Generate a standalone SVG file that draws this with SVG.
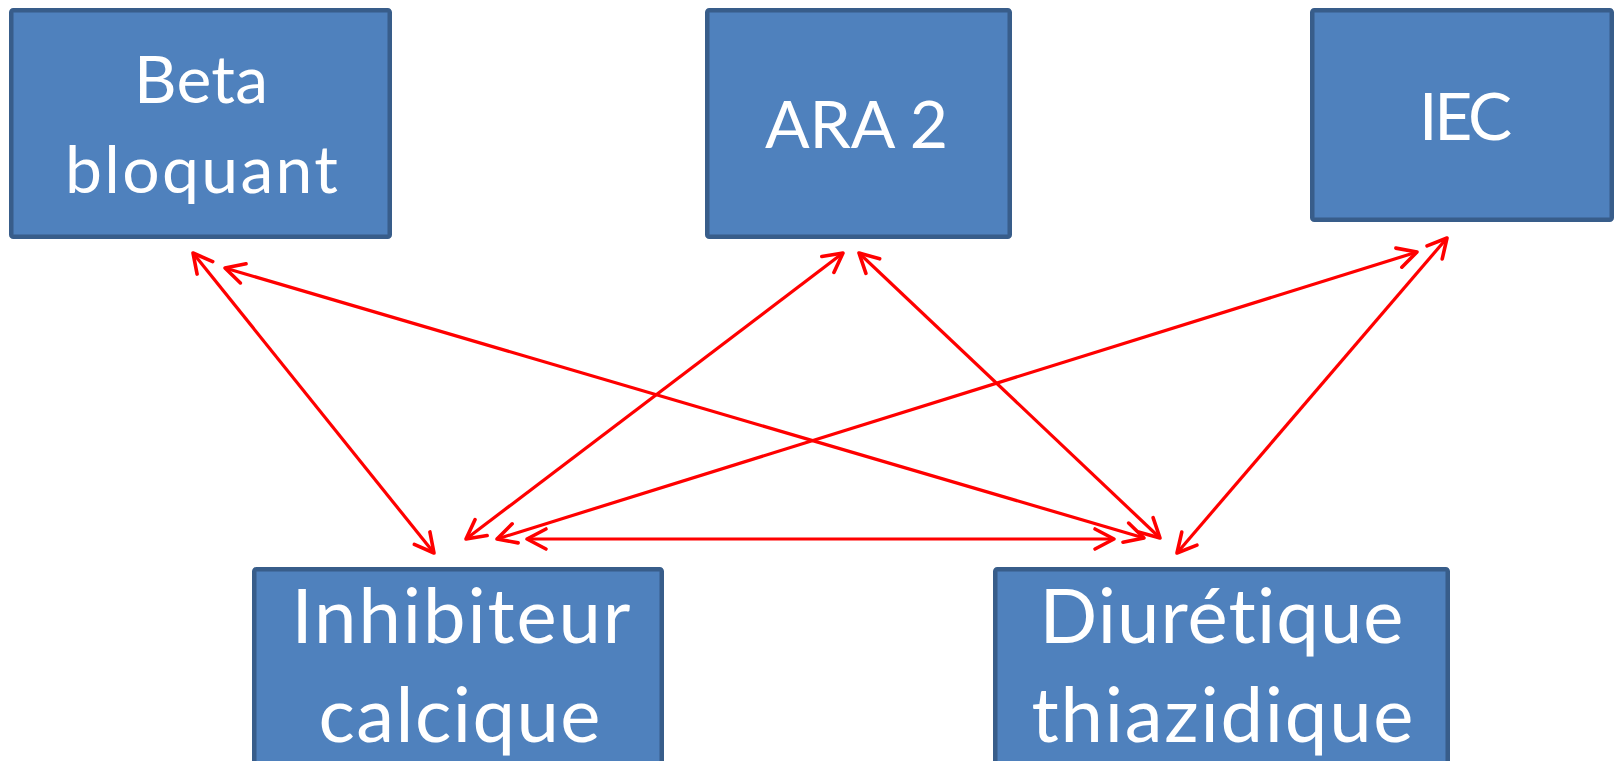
<svg xmlns="http://www.w3.org/2000/svg" width="1615" height="761" viewBox="0 0 1615 761">
<defs>
<style>
.box{fill:#4F81BD;stroke:#385D8A;stroke-width:4.5}
.lbl{font-family:Lato,"Open Sans","Liberation Sans",sans-serif;fill:#FFFFFF;text-anchor:middle;font-variant-ligatures:none;font-feature-settings:"liga" 0,"dlig" 0}
.t{font-size:66px}
.b{font-size:76px}
.con{stroke:#FF0000;stroke-width:3.2;fill:none;marker-start:url(#ah);marker-end:url(#ah)}
</style>
<marker id="ah" markerUnits="userSpaceOnUse" orient="auto-start-reverse" refX="0" refY="0" markerWidth="30" markerHeight="30" overflow="visible">
<path d="M-19,-10 L0,0 L-19,10" fill="none" stroke="#FF0000" stroke-width="3.6" stroke-linejoin="round" stroke-linecap="round"/>
</marker>
</defs>
<rect width="1615" height="761" fill="#FFFFFF"/>
<g id="beta">
<rect class="box" x="11.25" y="10.25" width="378.5" height="226.5" rx="2"/>
<text class="lbl t" x="201" y="103" textLength="134" lengthAdjust="spacing">Beta</text>
<text class="lbl t" x="201.5" y="193" textLength="273" lengthAdjust="spacing">bloquant</text>
</g>
<g id="ara2">
<rect class="box" x="707.25" y="10.25" width="302.5" height="226.5" rx="2"/>
<text class="lbl t" x="856.5" y="148" textLength="183" lengthAdjust="spacing">ARA 2</text>
</g>
<g id="iec">
<rect class="box" x="1312.25" y="10.25" width="299.5" height="209.5" rx="2"/>
<text class="lbl t" x="1465.5" y="140" textLength="93" lengthAdjust="spacing">IEC</text>
</g>
<g id="inhibiteur">
<rect class="box" x="254.25" y="569.25" width="407.5" height="230" rx="2"/>
<text class="lbl b" x="461" y="643" textLength="339" lengthAdjust="spacing">Inhibiteur</text>
<text class="lbl b" x="459.5" y="742" textLength="282" lengthAdjust="spacing">calcique</text>
</g>
<g id="diuretique">
<rect class="box" x="995.25" y="569.25" width="452.5" height="230" rx="2"/>
<text class="lbl b" x="1221.5" y="643" textLength="364" lengthAdjust="spacing">Diurétique</text>
<text class="lbl b" x="1222.5" y="742" textLength="382" lengthAdjust="spacing">thiazidique</text>
</g>
<g id="connectors">
<line class="con" x1="193" y1="253" x2="434" y2="553"/>
<line class="con" x1="225" y1="268" x2="1144" y2="538"/>
<line class="con" x1="843" y1="253" x2="466" y2="539"/>
<line class="con" x1="859" y1="253" x2="1160" y2="538"/>
<line class="con" x1="1417" y1="252" x2="497" y2="539"/>
<line class="con" x1="1447" y1="238" x2="1177" y2="553"/>
<line class="con" x1="527" y1="539" x2="1114" y2="539"/>
</g>
</svg>
